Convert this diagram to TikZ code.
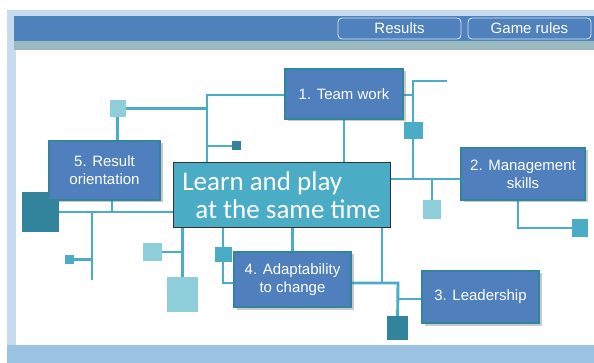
\documentclass[tikz,border=0pt]{standalone}
\usepackage{fontspec}
\setmainfont{Liberation Sans}
\newfontfamily\learnfont{Carlito}
\usepackage{xcolor}
\usetikzlibrary{shadows}
\usetikzlibrary{backgrounds}
\definecolor{barblue}{HTML}{4F81BD}
\definecolor{boxblue}{HTML}{4F7FBC}
\definecolor{boxedge}{HTML}{31859C}
\definecolor{lineteal}{HTML}{4BACC6}
\definecolor{sqlight}{HTML}{8ECDDA}
\definecolor{sqdark}{HTML}{31849B}
\definecolor{framelight}{HTML}{C6DCEE}
\definecolor{framedeep}{HTML}{9DC3E4}
\definecolor{bandgrey}{HTML}{9ABAC0}
\tikzset{
  skill/.style = {draw = boxedge, line width = 1.2pt, fill = boxblue, text = white, align = center, inner sep = 0, font = \fontsize{15}{18}\selectfont, drop shadow = {shadow xshift = 2.5pt, shadow yshift = -2.5pt, opacity = .35, fill = black!60}},
  tile/.style = {fill = #1, inner sep = 0},
  link/.style = {lineteal, line width = 2.9pt},
  tab/.style = {draw = white!80!barblue, line width = .8pt, fill = barblue, rounded corners = 4pt, text = white, minimum width = 123pt, minimum height = 21pt, inner sep = 0, font = \fontsize{15}{18}\selectfont}
}

\begin{document}
\begin{tikzpicture}[x = 1pt, y = -1pt]
  \useasboundingbox (0, 0) rectangle (594, 363);
  \begin{scope}[on background layer]
    \fill[white] (0, 0) rectangle (594, 363);
    \fill[framelight] (7, 10) rectangle (594, 363);
    \fill[framedeep] (7, 345) rectangle (594, 363);
    \fill[barblue] (14, 16) rectangle (594, 41);
    \fill[bandgrey] (14, 41) rectangle (594, 50);
    \fill[white] (16, 50) rectangle (594, 345);
  \end{scope}
  \node[tab] (results) at (399.5, 28.5) {Results};
  \node[tab] (rules) at (529.5, 28.5) {Game rules};
  % squares
  \node[tile = sqlight, minimum width = 16pt, minimum height = 17pt] (sqa) at (117.5, 108.5) {};
  \node[tile = sqdark, minimum width = 9pt, minimum height = 9pt] (sqb) at (236.5, 146) {};
  \node[tile = sqdark, minimum width = 37pt, minimum height = 40pt] (sqc) at (40, 212) {};
  \node[tile = lineteal, minimum width = 9pt, minimum height = 9pt] (sqd) at (69, 259.5) {};
  \node[tile = sqlight, minimum width = 19pt, minimum height = 18pt] (sqe) at (152.5, 252) {};
  \node[tile = sqlight, minimum width = 31pt, minimum height = 35pt] (sqf) at (182.5, 294.5) {};
  \node[tile = lineteal, minimum width = 17pt, minimum height = 15pt] (sqg) at (223.5, 255) {};
  \node[tile = sqdark, minimum width = 21pt, minimum height = 24pt] (sqh) at (397.5, 328) {};
  \node[tile = lineteal, minimum width = 19pt, minimum height = 17pt] (sqi) at (413.5, 130.5) {};
  \node[tile = sqlight, minimum width = 18pt, minimum height = 19pt] (sqj) at (432, 209.5) {};
  \node[tile = lineteal, minimum width = 16pt, minimum height = 18pt] (sqk) at (580, 228) {};
  % boxes
  \node[skill, minimum width = 118pt, minimum height = 50pt] (team) at (344, 94) {1. Team work};
  \node[skill, minimum width = 124pt, minimum height = 52pt] (mgmt) at (523, 174) {2. Management\\skills};
  \node[skill, minimum width = 117pt, minimum height = 52pt] (lead) at (480.5, 297) {3. Leadership};
  \node[skill, minimum width = 117pt, minimum height = 55pt] (adapt) at (292.5, 279.5) {4. Adaptability\\to change};
  \node[skill, minimum width = 111pt, minimum height = 59pt] (result) at (104.5, 170.5) {5. Result\\orientation};
  \node[draw = black!80, line width = 1pt, fill = lineteal, text = white, align = left, inner sep = 0, minimum width = 217pt, minimum height = 65pt, font = \learnfont\fontsize{27}{28}\selectfont] (learn) at (281.5, 195.5) {Learn and play\\\hspace*{13pt}at the same time};
  % connectors
  \coordinate (ja) at (207, 95);
  \coordinate (jb) at (112, 212);
  \coordinate (jc) at (92, 212);
  \coordinate (jd) at (223, 283);
  \coordinate (je) at (382, 283);
  \coordinate (jf) at (398, 283);
  \coordinate (jg) at (413, 179);
  \coordinate (jh) at (413, 81);
  \coordinate (ji) at (518, 228);
  \begin{scope}[on background layer]
    \draw[link] (team.west |- ja) -- (ja) -- (ja |- learn.north);
    \draw[link] (sqa) -- (ja |- sqa);
    \draw[link] (sqa) -- (sqa |- result.south);
    \draw[link] (sqb) -- (ja |- sqb);
    \draw[link] (sqc) -- (learn.west |- jb);
    \draw[link] (jb) -- (jb |- result.south);
    \draw[link] (jc) -- ++(0, 68);
    \draw[link] (sqd) -- (sqd -| jc);
    \draw[link] (sqf) -- (sqf |- learn.south);
    \draw[link] (sqe) -- (sqe -| sqf);
    \draw[link] (jd |- learn.south) -- (jd) -- (adapt.west |- jd);
    \draw[link] (adapt.north) -- (adapt.north |- learn.south);
    \draw[link] (je |- learn.south) -- (je);
    \draw[link] (adapt.east |- jf) -- (jf) -- (sqh);
    \draw[link] (lead.west |- 0, 299) -- (jf |- 0, 299);
    \draw[link] (learn.east |- jg) -- (mgmt.west |- jg);
    \draw[link] (jg) -- (jh) -- ++(34, 0);
    \draw[link] (team.east |- ja) -- (jh |- ja);
    \draw[link] (sqj) -- (sqj |- jg);
    \draw[link] (team.south) -- (team.south |- learn.north);
    \draw[link] (ji |- mgmt.south) -- (ji) -- (sqk);
  \end{scope}
\end{tikzpicture}
\end{document}
